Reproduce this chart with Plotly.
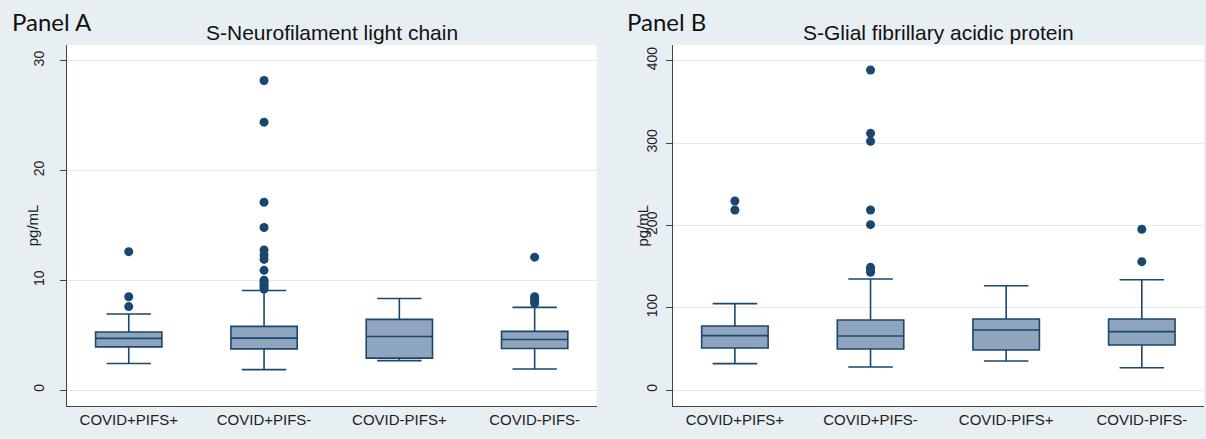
import plotly.graph_objects as go

# ---------------- data ----------------
categories = ["COVID+PIFS+", "COVID+PIFS-", "COVID-PIFS+", "COVID-PIFS-"]

# Panel A: S-Neurofilament light chain (pg/mL)
nfl_q1 = [3.93, 3.75, 2.90, 3.78]
nfl_median = [4.70, 4.73, 4.88, 4.60]
nfl_q3 = [5.28, 5.80, 6.43, 5.34]
nfl_lower = [2.41, 1.86, 2.68, 1.92]
nfl_upper = [6.92, 9.06, 8.33, 7.53]
nfl_out_g1 = [12.6, 8.5, 7.6]
nfl_out_g2 = [28.2, 24.4, 17.1, 14.8, 12.75, 12.3, 11.9, 10.9, 10.0, 9.8, 9.6, 9.4, 9.2]
nfl_out_g3 = []
nfl_out_g4 = [12.1, 8.5, 8.3, 8.1, 7.9]

# Panel B: S-Glial fibrillary acidic protein (pg/mL)
gfap_q1 = [51.0, 49.8, 48.6, 54.7]
gfap_median = [66.0, 65.6, 72.9, 70.9]
gfap_q3 = [77.7, 85.0, 86.2, 86.2]
gfap_lower = [32.0, 27.9, 35.2, 27.1]
gfap_upper = [104.9, 134.8, 126.7, 134.0]
gfap_out_g1 = [229.6, 218.6]
gfap_out_g2 = [388.7, 311.8, 302.1, 218.6, 200.8, 149.0, 146.0, 143.0]
gfap_out_g3 = []
gfap_out_g4 = [195.2, 155.9]

nfl_ticks = [0, 10, 20, 30]
gfap_ticks = [0, 100, 200, 300, 400]

# ---------------- style ----------------
W, H = 1206, 439
BG = "#e8eff3"
NAVY = "#1a476f"
FILL = "#8ea5bd"
FONT = "Liberation Sans, Arial, sans-serif"

fig = go.Figure()


def add_panel(q1, med, q3, lo, hi, outs, xa, ya):
    fig.add_trace(go.Box(
        x=categories, q1=q1, median=med, q3=q3,
        lowerfence=lo, upperfence=hi,
        boxpoints=False, width=0.49, whiskerwidth=0.67,
        fillcolor=FILL, line=dict(color=NAVY, width=1.6),
        xaxis=xa, yaxis=ya, showlegend=False, hoverinfo="y",
    ))
    ox, oy = [], []
    for c, vals in zip(categories, outs):
        ox += [c] * len(vals)
        oy += list(vals)
    fig.add_trace(go.Scatter(
        x=ox, y=oy, mode="markers",
        marker=dict(color=NAVY, size=9),
        xaxis=xa, yaxis=ya, showlegend=False,
    ))


add_panel(nfl_q1, nfl_median, nfl_q3, nfl_lower, nfl_upper,
          [nfl_out_g1, nfl_out_g2, nfl_out_g3, nfl_out_g4], "x", "y")
add_panel(gfap_q1, gfap_median, gfap_q3, gfap_lower, gfap_upper,
          [gfap_out_g1, gfap_out_g2, gfap_out_g3, gfap_out_g4], "x2", "y2")

ydom = [1 - 405.7 / H, 1 - 45 / H]
xdomA = [66.7 / W, 596.7 / W]
xdomB = [672.7 / W, 1204 / W]
xr = [-0.4585, 3.4585]

xcommon = dict(type="category", range=xr, showline=True, linecolor="#444444",
               linewidth=1.3, ticks="", showgrid=False, zeroline=False,
               tickfont=dict(family=FONT, size=15, color="#222222"),
               fixedrange=True)
ycommon = dict(showline=True, linecolor="#444444", linewidth=1.3,
               ticks="outside", ticklen=6, tickcolor="#444444", tickwidth=1.2,
               tickangle=-90, showgrid=True, gridcolor="#e4e9ec", gridwidth=1,
               zeroline=False, tickfont=dict(family=FONT, size=14, color="#222222"),
               fixedrange=True)

fig.update_layout(
    width=W, height=H,
    margin=dict(l=0, r=0, t=0, b=0),
    paper_bgcolor=BG, plot_bgcolor="white",
    xaxis=dict(domain=xdomA, anchor="y", **xcommon),
    yaxis=dict(domain=ydom, anchor="x", range=[-1.43, 31.43], tickvals=nfl_ticks,
               ticklabelstandoff=10, **ycommon),
    xaxis2=dict(domain=xdomB, anchor="y2", **xcommon),
    yaxis2=dict(domain=ydom, anchor="x2", range=[-19.07, 419.07], tickvals=gfap_ticks,
                ticklabelstandoff=3, **ycommon),
    annotations=[
        dict(text="Panel A", x=10 / W, y=1 - 22 / H, xref="paper", yref="paper",
             xanchor="left", yanchor="middle", showarrow=False,
             font=dict(family="Lato, Open Sans, sans-serif", size=24, color="#111111")),
        dict(text="Panel B", x=625 / W, y=1 - 22 / H, xref="paper", yref="paper",
             xanchor="left", yanchor="middle", showarrow=False,
             font=dict(family="Lato, Open Sans, sans-serif", size=24, color="#111111")),
        dict(text="S-Neurofilament light chain", x=331.7 / W, y=1 - 32 / H,
             xref="paper", yref="paper", xanchor="center", yanchor="middle",
             showarrow=False, font=dict(family=FONT, size=21, color="#111111")),
        dict(text="S-Glial fibrillary acidic protein", x=938.4 / W, y=1 - 32 / H,
             xref="paper", yref="paper", xanchor="center", yanchor="middle",
             showarrow=False, font=dict(family=FONT, size=21, color="#111111")),
        dict(text="pg/mL", x=32.3 / W, y=1 - 225 / H, xref="paper", yref="paper",
             xanchor="center", yanchor="middle", textangle=-90, showarrow=False,
             font=dict(family=FONT, size=15, color="#222222")),
        dict(text="pg/mL", x=641.5 / W, y=1 - 226 / H, xref="paper", yref="paper",
             xanchor="center", yanchor="middle", textangle=-90, showarrow=False,
             font=dict(family=FONT, size=15, color="#222222")),
    ],
)

fig.write_html(
    "out.html",
    config={"displayModeBar": False},
    post_script="document.body.style.margin='0';document.body.style.overflow='hidden';",
)
